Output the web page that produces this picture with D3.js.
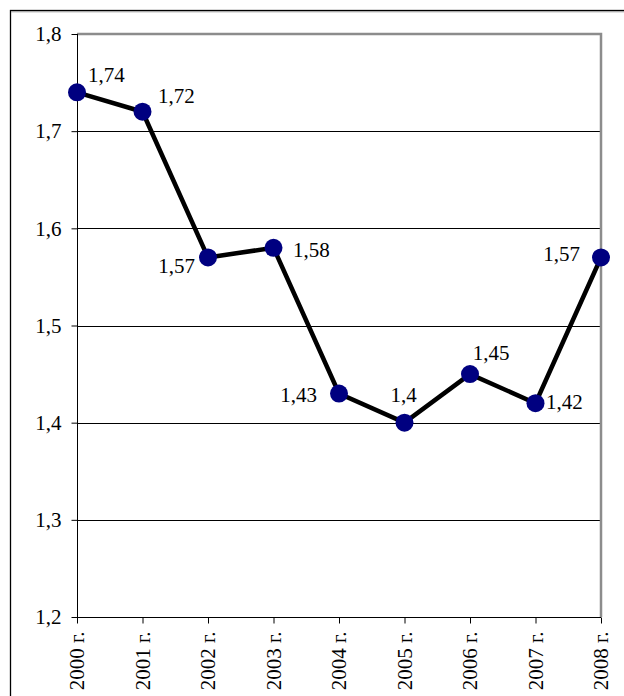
<!DOCTYPE html>
<html>
<head>
<meta charset="utf-8">
<script src="https://cdn.jsdelivr.net/npm/d3@7"></script>
<style>
  html, body { margin: 0; padding: 0; background: #fff; }
  svg { display: block; }
</style>
</head>
<body>
<div id="chart"></div>
<script>
// ---- data ----
const years = ["2000 г.", "2001 г.", "2002 г.", "2003 г.", "2004 г.", "2005 г.", "2006 г.", "2007 г.", "2008 г."];
const values = [1.74, 1.72, 1.57, 1.58, 1.43, 1.40, 1.45, 1.42, 1.57];
const yTicks = [1.2, 1.3, 1.4, 1.5, 1.6, 1.7, 1.8];

// label placement (dx, dy from point centre, anchor)
const labelPlacement = [
  [11, -10, "start"], [15.5, -9, "start"], [-13, 16, "end"], [19.5, 9, "start"],
  [-22, 8, "end"], [-1, -21, "middle"], [21, -14, "middle"], [10.5, 6, "start"], [-21, 4, "end"]
];

const W = 624, H = 696;
const FONT = '"Liberation Serif", "Times New Roman", serif';
const FS = "21px";
const plot = { left: 77, top: 34, right: 601, bottom: 617 };
const fmt = v => String(+v.toFixed(2)).replace(".", ",");

const svg = d3.select("#chart").append("svg").attr("width", W).attr("height", H);

// outer frame (extends past the picture on right & bottom)
svg.append("rect").attr("x", 10.5).attr("y", 10.5).attr("width", 700).attr("height", 700)
  .attr("fill", "none").attr("stroke", "#000").attr("stroke-width", 1.3);
svg.append("line").attr("x1", 11).attr("x2", W).attr("y1", 11.8).attr("y2", 11.8)
  .attr("stroke", "#999").attr("stroke-width", 1);

const x = d3.scalePoint().domain(years).range([plot.left, plot.right]).padding(0);
const y = d3.scaleLinear().domain([1.2, 1.8]).range([plot.bottom, plot.top]);

// gridlines
svg.append("g").selectAll("line").data(yTicks.filter(t => t > 1.2 && t < 1.8)).join("line")
  .attr("x1", plot.left).attr("x2", plot.right)
  .attr("y1", d => Math.round(y(d)) + 0.5).attr("y2", d => Math.round(y(d)) + 0.5)
  .attr("stroke", "#000").attr("stroke-width", 1);

// plot border top/right (gray)
svg.append("path")
  .attr("d", `M${plot.left},${plot.top} H${plot.right} V${plot.bottom}`)
  .attr("fill", "none").attr("stroke", "#8c8c8c").attr("stroke-width", 2.5);

// y axis
const yAxis = d3.axisLeft(y).tickValues(yTicks).tickSize(6).tickPadding(10).tickFormat(d => fmt(d));
const gy = svg.append("g").attr("transform", `translate(${plot.left + 0.5},0)`).call(yAxis);
gy.select(".domain").remove();
gy.append("line").attr("x1", 0).attr("x2", 0).attr("y1", plot.top).attr("y2", plot.bottom).attr("stroke", "#000");
gy.selectAll(".tick line").attr("stroke", "#000");
gy.selectAll("text").style("font-family", FONT).style("font-size", FS).attr("fill", "#000");

// x axis
const xAxis = d3.axisBottom(x).tickSize(6).tickPadding(0);
const gx = svg.append("g").attr("transform", `translate(0,${plot.bottom + 0.5})`).call(xAxis);
gx.select(".domain").remove();
gx.append("line").attr("x1", plot.left).attr("x2", plot.right).attr("y1", 0).attr("y2", 0).attr("stroke", "#000");
gx.selectAll(".tick line").attr("stroke", "#000");
gx.selectAll(".tick text")
  .style("font-family", FONT).style("font-size", FS).attr("fill", "#000")
  .attr("text-anchor", "end")
  .attr("transform", "rotate(-90)")
  .attr("x", -14).attr("y", 0).attr("dy", "0.33em");

// line
const line = d3.line().x((d, i) => x(years[i])).y(d => y(d));
svg.append("path").datum(values).attr("d", line)
  .attr("fill", "none").attr("stroke", "#000").attr("stroke-width", 4.5).attr("stroke-linejoin", "miter");

// markers
svg.append("g").selectAll("circle").data(values).join("circle")
  .attr("cx", (d, i) => x(years[i])).attr("cy", d => y(d)).attr("r", 9)
  .attr("fill", "#000080");

// data labels
svg.append("g").selectAll("text").data(values).join("text")
  .attr("x", (d, i) => x(years[i]) + labelPlacement[i][0])
  .attr("y", (d, i) => y(d) + labelPlacement[i][1])
  .attr("text-anchor", (d, i) => labelPlacement[i][2])
  .style("font-family", FONT).style("font-size", FS).attr("fill", "#000")
  .text(d => fmt(d));
</script>
</body>
</html>
